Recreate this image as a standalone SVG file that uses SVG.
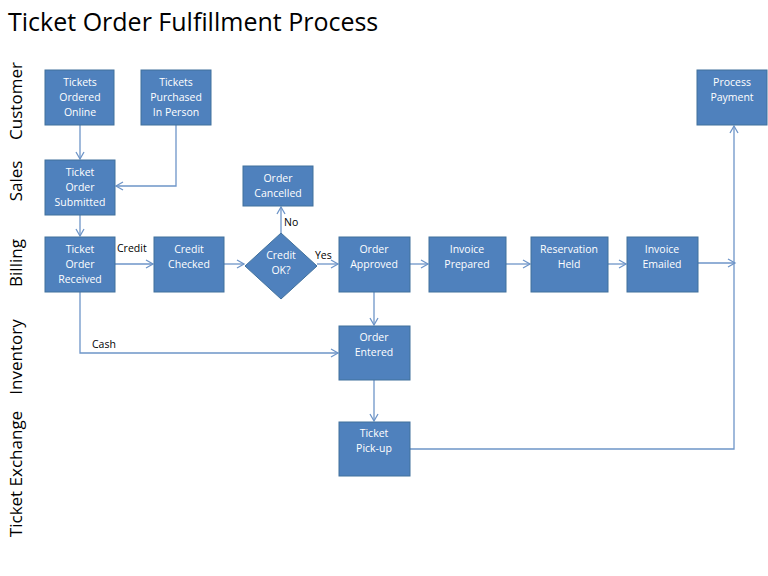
<svg xmlns="http://www.w3.org/2000/svg" width="768" height="576" viewBox="0 0 768 576">
<style>
.n{fill:#4f81bd;stroke:#41719c;stroke-width:1}
.t{font-family:"Open Sans","Liberation Sans",sans-serif;font-size:10.5px;fill:#fff;text-anchor:middle}
.c{fill:none;stroke:#6e95c8;stroke-width:1.3}
.l{font-family:"Open Sans","Liberation Sans",sans-serif;font-size:10.5px;fill:#000}
.lane{font-family:"Open Sans","Liberation Sans",sans-serif;font-size:17px;fill:#000;text-anchor:middle}
</style>
<defs><marker id="a" markerWidth="10" markerHeight="10" refX="8" refY="5" orient="auto" markerUnits="userSpaceOnUse"><path d="M1,1 L8,5 L1,9" fill="none" stroke="#6e95c8" stroke-width="1.3"/></marker></defs>
<rect width="768" height="576" fill="#fff"/>
<text x="8" y="31" font-family="Open Sans,Liberation Sans,sans-serif" font-size="25" fill="#000">Ticket Order Fulfillment Process</text>
<g id="lanes">
<text class="lane" transform="translate(22,101) rotate(-90)">Customer</text>
<text class="lane" transform="translate(22,181) rotate(-90)">Sales</text>
<text class="lane" transform="translate(22,263) rotate(-90)">Billing</text>
<text class="lane" transform="translate(22,357) rotate(-90)">Inventory</text>
<text class="lane" transform="translate(22,474) rotate(-90)">Ticket Exchange</text>
</g>
<g id="connectors">
<path class="c" d="M80,125V159" marker-end="url(#a)"/>
<path class="c" d="M176,125V186H116" marker-end="url(#a)"/>
<path class="c" d="M80,215V236" marker-end="url(#a)"/>
<path class="c" d="M115,264H153" marker-end="url(#a)"/>
<path class="c" d="M224,264H244" marker-end="url(#a)"/>
<path class="c" d="M281,233V207" marker-end="url(#a)"/>
<path class="c" d="M317,264H338" marker-end="url(#a)"/>
<path class="c" d="M410,264H428" marker-end="url(#a)"/>
<path class="c" d="M506,264H530" marker-end="url(#a)"/>
<path class="c" d="M608,264H626" marker-end="url(#a)"/>
<path class="c" d="M698,263H735" marker-end="url(#a)"/>
<path class="c" d="M374,292V325" marker-end="url(#a)"/>
<path class="c" d="M80,292V353H338" marker-end="url(#a)"/>
<path class="c" d="M374,380V421" marker-end="url(#a)"/>
<path class="c" d="M410,449H734V126" marker-end="url(#a)"/>
<text class="l" x="117" y="252">Credit</text>
<text class="l" x="284" y="226">No</text>
<text class="l" x="315" y="259">Yes</text>
<text class="l" x="92" y="348">Cash</text>
</g>
<g id="n1"><rect class="n" x="45" y="70" width="69" height="55"/><text class="t"><tspan x="80" y="86">Tickets</tspan><tspan x="80" y="101">Ordered</tspan><tspan x="80" y="116">Online</tspan></text></g>
<g id="n2"><rect class="n" x="141" y="70" width="70" height="55"/><text class="t"><tspan x="176" y="86">Tickets</tspan><tspan x="176" y="101">Purchased</tspan><tspan x="176" y="116">In Person</tspan></text></g>
<g id="n3"><rect class="n" x="45" y="160" width="70" height="55"/><text class="t"><tspan x="80" y="176">Ticket</tspan><tspan x="80" y="191">Order</tspan><tspan x="80" y="206">Submitted</tspan></text></g>
<g id="n4"><rect class="n" x="45" y="237" width="70" height="55"/><text class="t"><tspan x="80" y="253">Ticket</tspan><tspan x="80" y="268">Order</tspan><tspan x="80" y="283">Received</tspan></text></g>
<g id="n5"><rect class="n" x="154" y="237" width="70" height="55"/><text class="t"><tspan x="189" y="253">Credit</tspan><tspan x="189" y="268">Checked</tspan></text></g>
<g id="n6"><path class="n" d="M281,233L317,266L281,299L245,266Z"/><text class="t"><tspan x="281" y="259">Credit</tspan><tspan x="281" y="274">OK?</tspan></text></g>
<g id="n7"><rect class="n" x="243" y="166" width="70" height="40"/><text class="t"><tspan x="278" y="182">Order</tspan><tspan x="278" y="197">Cancelled</tspan></text></g>
<g id="n8"><rect class="n" x="339" y="237" width="71" height="55"/><text class="t"><tspan x="374" y="253">Order</tspan><tspan x="374" y="268">Approved</tspan></text></g>
<g id="n9"><rect class="n" x="429" y="237" width="77" height="55"/><text class="t"><tspan x="467" y="253">Invoice</tspan><tspan x="467" y="268">Prepared</tspan></text></g>
<g id="n10"><rect class="n" x="531" y="237" width="77" height="55"/><text class="t"><tspan x="569" y="253">Reservation</tspan><tspan x="569" y="268">Held</tspan></text></g>
<g id="n11"><rect class="n" x="627" y="237" width="71" height="55"/><text class="t"><tspan x="662" y="253">Invoice</tspan><tspan x="662" y="268">Emailed</tspan></text></g>
<g id="n12"><rect class="n" x="697" y="70" width="70" height="55"/><text class="t"><tspan x="732" y="86">Process</tspan><tspan x="732" y="101">Payment</tspan></text></g>
<g id="n13"><rect class="n" x="339" y="326" width="71" height="54"/><text class="t"><tspan x="374" y="341">Order</tspan><tspan x="374" y="356">Entered</tspan></text></g>
<g id="n14"><rect class="n" x="339" y="422" width="71" height="54"/><text class="t"><tspan x="374" y="437">Ticket</tspan><tspan x="374" y="452">Pick-up</tspan></text></g>
</svg>
